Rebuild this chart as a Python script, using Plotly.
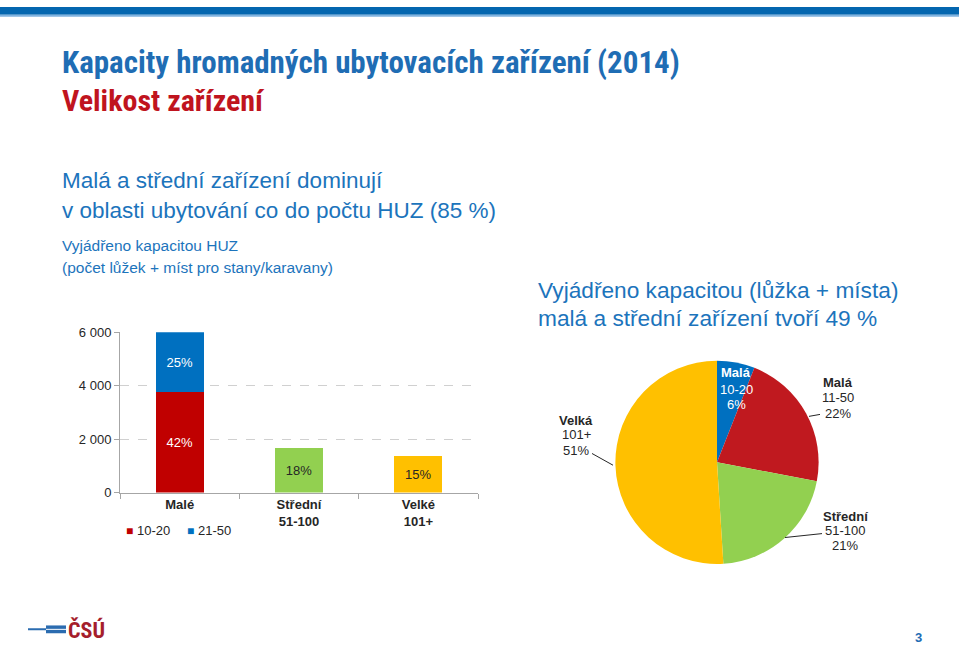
import plotly.graph_objects as go

W, H = 959, 652

# ---- data ----
bar_categories = ["<b>Malé</b>", "<b>Střední<br>51-100</b>", "<b>Velké<br>101+</b>"]
male_1020 = 3770
male_2150 = 2230
stredni = 1683
velke = 1354
bar_pct_labels = ["42%", "25%", "18%", "15%"]
y_ticks = [0, 2000, 4000, 6000]
y_tick_labels = ["0", "2 000", "4 000", "6 000"]

pie_labels = ["Malá 10-20", "Malá 11-50", "Střední 51-100", "Velká 101+"]
pie_values = [6, 22, 21, 51]

RED = "#C00000"
BLUE = "#0070C0"
GREEN = "#92D050"
YELLOW = "#FFC000"
PIE_COLORS = [BLUE, "#C0191F", GREEN, YELLOW]
TITLE_BLUE = "#1F6DB4"
TEXT_BLUE = "#1C74BC"
DARK_RED = "#C0141E"
FONT = "Liberation Sans, Arial, sans-serif"
NARROW = "Liberation Sans Narrow, Arial Narrow, Roboto Condensed, Liberation Sans, Arial, sans-serif"


def px(x):
    return x / W


def py(y):
    return 1 - y / H


fig = go.Figure()

fig.add_trace(go.Bar(x=[bar_categories[0]], y=[male_1020], name="10-20",
                     marker_color=RED, text=[bar_pct_labels[0]],
                     textfont=dict(color="white", size=13), showlegend=False))
fig.add_trace(go.Bar(x=[bar_categories[0]], y=[male_2150], name="21-50",
                     marker_color=BLUE, text=[bar_pct_labels[1]],
                     textfont=dict(color="white", size=13), showlegend=False))
fig.add_trace(go.Bar(x=[bar_categories[1]], y=[stredni], name="Střední",
                     marker_color=GREEN, text=[bar_pct_labels[2]],
                     textfont=dict(color="#262626", size=13), showlegend=False))
fig.add_trace(go.Bar(x=[bar_categories[2]], y=[velke], name="Velké",
                     marker_color=YELLOW, text=[bar_pct_labels[3]],
                     textfont=dict(color="#262626", size=13), showlegend=False))
fig.update_traces(selector=dict(type="bar"), textposition="inside",
                  insidetextanchor="middle", width=0.4, marker_line_width=0,
                  cliponaxis=False)

fig.add_trace(go.Pie(labels=pie_labels, values=pie_values, sort=False,
                     direction="clockwise", rotation=0,
                     marker=dict(colors=PIE_COLORS, line=dict(width=0)),
                     textinfo="none", showlegend=False,
                     domain=dict(x=[px(613), px(821)], y=[py(570), py(362)])))

fig.update_layout(
    width=W, height=H, margin=dict(l=0, r=0, t=0, b=0),
    paper_bgcolor="white", plot_bgcolor="white",
    font=dict(family=FONT, size=13, color="#262626"),
    barmode="stack", uniformtext=dict(mode=False),
    xaxis=dict(domain=[px(120), px(478)], showgrid=False, showline=True,
               linecolor="#A6A6A6", linewidth=1, ticks="outside",
               tickson="boundaries", ticklen=5, tickcolor="#A6A6A6",
               tickfont=dict(size=13, color="#262626"), fixedrange=True),
    yaxis=dict(domain=[py(497), py(333)], range=[0, 6000], tickvals=y_ticks,
               ticktext=y_tick_labels, showgrid=True, gridcolor="#D0D0D0",
               griddash="dash", showline=True, linecolor="#A6A6A6",
               ticks="outside", ticklen=5, tickcolor="#A6A6A6",
               tickfont=dict(size=13, color="#262626"), zeroline=False,
               fixedrange=True),
)

shapes = [
    dict(type="rect", xref="paper", yref="paper", x0=0, x1=1, y0=py(8), y1=1,
         fillcolor="#0466AF", line_width=0),
    dict(type="rect", xref="paper", yref="paper", x0=0, x1=1, y0=py(10), y1=py(8),
         fillcolor="#7FB2DF", line_width=0),
    # pie leader lines
    dict(type="line", xref="paper", yref="paper", x0=px(809), y0=py(419),
         x1=px(820), y1=py(417), line=dict(color="#262626", width=1)),
    dict(type="line", xref="paper", yref="paper", x0=px(592), y0=py(457),
         x1=px(613), y1=py(469), line=dict(color="#262626", width=1)),
    dict(type="line", xref="paper", yref="paper", x0=px(785), y0=py(543),
         x1=px(822), y1=py(539), line=dict(color="#262626", width=1)),
    # logo stripes
    dict(type="line", xref="paper", yref="paper", x0=px(28), y0=py(637),
         x1=px(66), y1=py(637), line=dict(color="#2B6CB0", width=2)),
    dict(type="rect", xref="paper", yref="paper", x0=px(46), y0=py(641),
         x1=px(66), y1=py(633), fillcolor="#2B6CB0", line_width=0),
    dict(type="line", xref="paper", yref="paper", x0=px(46), y0=py(637),
         x1=px(66), y1=py(637), line=dict(color="white", width=1)),
]

ann = []


def text(x, y, s, size, color, family=FONT, xanchor="left", bold=False):
    ann.append(dict(x=px(x), y=py(y), xref="paper", yref="paper",
                    text=f"<b>{s}</b>" if bold else s, showarrow=False,
                    xanchor=xanchor, yanchor="middle",
                    font=dict(size=size, color=color, family=family)))


text(60, 57, "Kapacity hromadných ubytovacích zařízení (2014)", 31, TITLE_BLUE, NARROW, bold=True)
text(60, 96, "Velikost zařízení", 30, DARK_RED, NARROW, bold=True)
text(60, 178, "Malá a střední zařízení dominují", 22.5, TEXT_BLUE)
text(60, 208, "v oblasti ubytování co do počtu HUZ (85 %)", 22.5, TEXT_BLUE)
text(60, 244, "Vyjádřeno kapacitou HUZ", 15.5, TEXT_BLUE)
text(60, 267, "(počet lůžek + míst pro stany/karavany)", 15.5, TEXT_BLUE)
text(536, 290, "Vyjádřeno kapacitou (lůžka + místa)", 22.7, TEXT_BLUE)
text(536, 318, "malá a střední zařízení tvoří 49 %", 22.7, TEXT_BLUE)

# bar legend
text(124, 536, "■", 12, RED)
text(135, 536, "10-20", 13, "#262626")
text(185, 536, "■", 12, BLUE)
text(196, 536, "21-50", 13, "#262626")

# pie labels
text(736, 374, "Malá", 13, "white", xanchor="center", bold=True)
text(736, 391, "10-20", 13, "white", xanchor="center")
text(736, 407, "6%", 13, "white", xanchor="center")
text(838, 384, "Malá", 13, "#262626", xanchor="center", bold=True)
text(838, 400, "11-50", 13, "#262626", xanchor="center")
text(838, 416, "22%", 13, "#262626", xanchor="center")
text(576, 423, "Velká", 13, "#262626", xanchor="center", bold=True)
text(576, 438, "101+", 13, "#262626", xanchor="center")
text(576, 454, "51%", 13, "#262626", xanchor="center")
text(845, 521, "Střední", 13, "#262626", xanchor="center", bold=True)
text(845, 536, "51-100", 13, "#262626", xanchor="center")
text(845, 551, "21%", 13, "#262626", xanchor="center")

# footer
text(66, 638, "ČSÚ", 22, "#A51E2C", NARROW, bold=True)
text(918, 645, "3", 13, "#1F6DB4", bold=True, xanchor="center")

fig.update_layout(shapes=shapes, annotations=ann)

post = (
    "document.documentElement.style.margin='0';"
    "document.documentElement.style.padding='0';"
    "document.documentElement.style.overflow='hidden';"
    "document.body.style.margin='0';"
    "document.body.style.padding='0';"
    "document.body.style.overflow='hidden';"
    "var gd=document.getElementById('{plot_id}');"
    "gd.style.position='fixed';gd.style.left='0px';gd.style.top='0px';"
)

fig.write_html("out.html", config={"displayModeBar": False}, post_script=post)
